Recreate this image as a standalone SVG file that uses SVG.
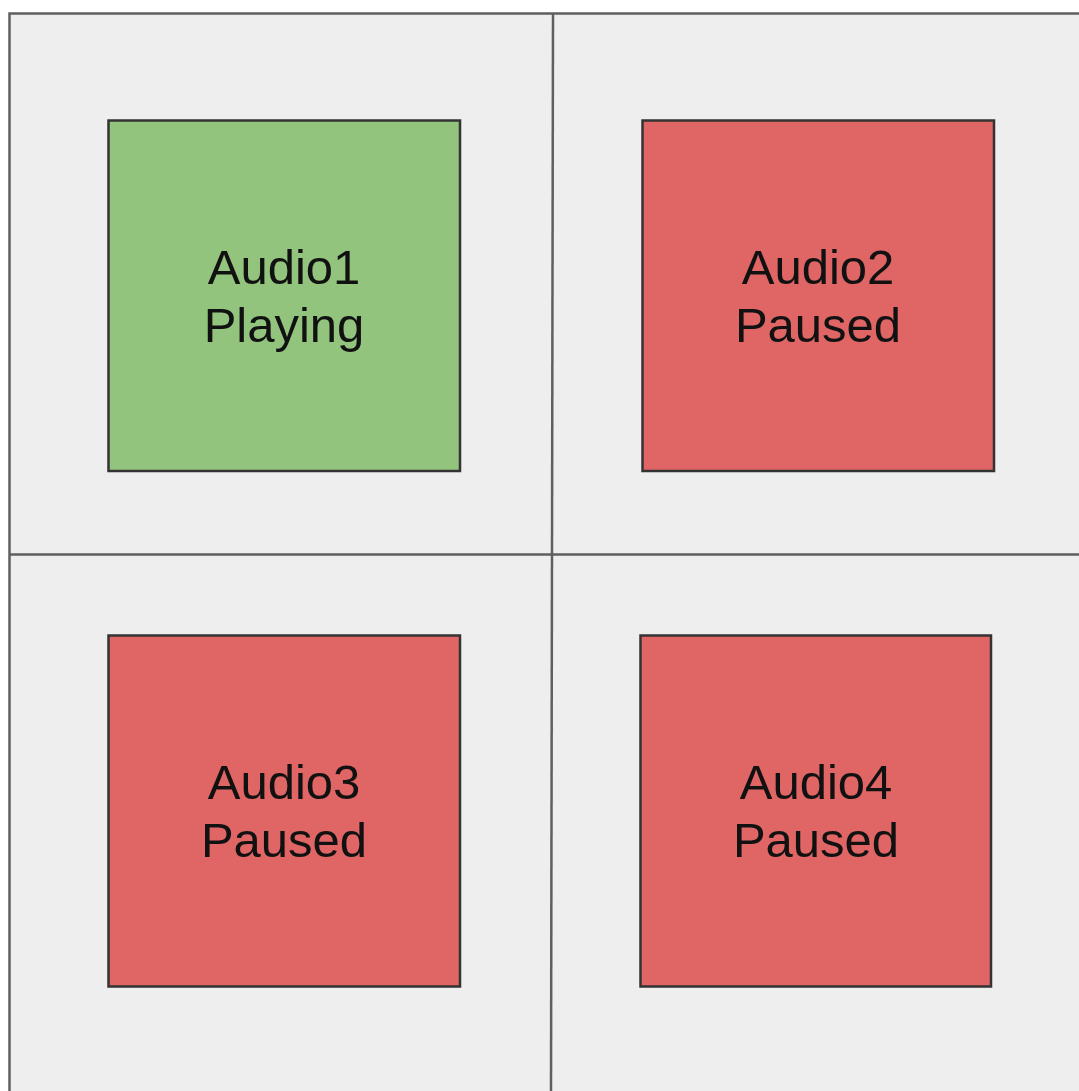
<svg xmlns="http://www.w3.org/2000/svg" width="1079" height="1091" viewBox="0 0 1079 1091">
  <style>
    .grid { stroke: #5f5f5f; stroke-width: 2.5; fill: none; }
    .tile { stroke: #333333; stroke-width: 2.5; }
    .playing { fill: #93c47d; }
    .paused { fill: #e06666; }
    .label { font-family: "Liberation Sans", Arial, sans-serif; font-size: 49px; fill: #111111; text-anchor: middle; }
  </style>
  <rect x="0" y="0" width="1079" height="1091" fill="#ffffff"/>
  <rect x="9.5" y="13.5" width="1069.5" height="1077.5" fill="#eeeeee"/>

  <!-- grid dividers and frame -->
  <g id="connectors">
    <path class="grid" d="M9.5 1091 V13.5 H1079"/>
    <line class="grid" x1="553" y1="13.5" x2="551" y2="1091"/>
    <line class="grid" x1="9.5" y1="554.5" x2="1079" y2="554.5"/>
  </g>

  <g id="audio1">
    <rect class="tile playing" x="108.5" y="120.5" width="351.5" height="350.5"/>
    <text class="label" x="284" y="284">Audio1</text>
    <text class="label" x="284" y="342">Playing</text>
  </g>

  <g id="audio2">
    <rect class="tile paused" x="642.5" y="120.5" width="351.5" height="350.5"/>
    <text class="label" x="818" y="284">Audio2</text>
    <text class="label" x="818" y="342">Paused</text>
  </g>

  <g id="audio3">
    <rect class="tile paused" x="108.5" y="635.5" width="351.5" height="351"/>
    <text class="label" x="284" y="799">Audio3</text>
    <text class="label" x="284" y="857">Paused</text>
  </g>

  <g id="audio4">
    <rect class="tile paused" x="640.5" y="635.5" width="350.5" height="351"/>
    <text class="label" x="816" y="799">Audio4</text>
    <text class="label" x="816" y="857">Paused</text>
  </g>
</svg>
